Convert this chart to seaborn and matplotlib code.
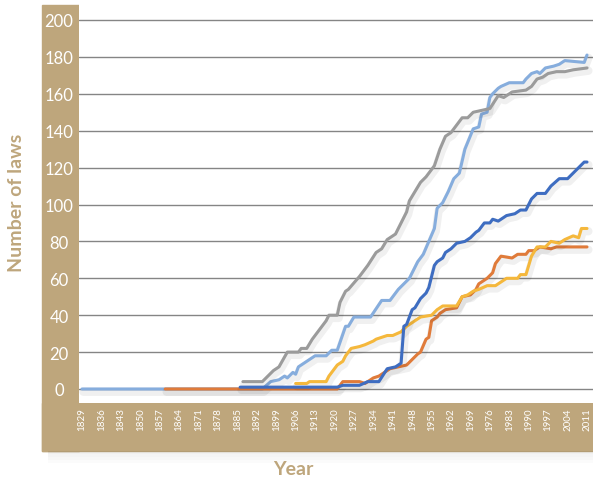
#!/usr/bin/env python3
"""Cumulative number of laws per year, five series, tan framed Excel-style chart."""

import matplotlib
matplotlib.use('Agg')
import matplotlib.pyplot as plt
import matplotlib.patheffects as pe
from matplotlib.patches import Rectangle
import seaborn as sns

# Data: (year, value) vertices for each series
light_blue_years = [1829, 1894, 1897, 1900, 1902, 1903, 1905, 1906, 1907, 1909, 1913, 1917,
                    1919, 1921, 1924, 1925, 1927, 1933, 1937, 1940, 1943, 1947, 1950, 1952,
                    1954, 1956, 1957, 1959, 1961, 1963, 1965, 1967, 1970, 1972, 1973, 1975,
                    1976, 1977, 1979, 1980, 1983, 1988, 1989, 1991, 1993, 1994, 1996, 1999,
                    2001, 2003, 2010, 2011]
light_blue_vals = [0, 0, 4, 5, 7, 6, 9, 8, 12, 14, 18, 18,
                   21, 21, 34, 34, 39, 39, 48, 48, 54, 60, 69, 73,
                   80, 87, 98, 101, 107, 114, 117, 130, 141, 142, 149, 150,
                   158, 160, 163, 164, 166, 166, 168, 171, 172, 171, 174, 175,
                   176, 178, 177, 181]

orange_years = [1859, 1921, 1923, 1929, 1931, 1934, 1936, 1940, 1943, 1946, 1950, 1951,
                1953, 1954, 1955, 1956, 1957, 1958, 1960, 1964, 1966, 1969, 1971, 1972,
                1975, 1977, 1978, 1979, 1980, 1984, 1986, 1989, 1990, 1992, 1994, 1998,
                2000, 2011]
orange_vals = [0, 0, 4, 4, 3, 6, 7, 11, 12, 13, 19, 20,
               27, 28, 37, 38, 39, 41, 43, 44, 50, 51, 54, 57,
               60, 63, 68, 70, 72, 71, 73, 73, 75, 75, 77, 76,
               77, 77]

gray_years = [1887, 1894, 1898, 1900, 1903, 1907, 1908, 1910, 1912, 1914, 1917, 1918,
              1921, 1922, 1924, 1925, 1929, 1932, 1935, 1937, 1939, 1942, 1944, 1946,
              1947, 1949, 1951, 1953, 1956, 1958, 1960, 1962, 1966, 1968, 1970, 1973,
              1976, 1979, 1981, 1984, 1989, 1991, 1993, 1995, 1997, 2000, 2003, 2006,
              2011]
gray_vals = [4, 4, 10, 12, 20, 20, 22, 22, 27, 31, 37, 40,
             40, 47, 53, 54, 61, 67, 74, 76, 81, 84, 90, 96,
             102, 107, 112, 115, 121, 130, 137, 139, 147, 147, 150, 151,
             152, 159, 158, 161, 162, 164, 168, 169, 171, 172, 172, 173,
             174]

yellow_years = [1906, 1910, 1911, 1917, 1918, 1921, 1923, 1924, 1926, 1929, 1931, 1934,
                1935, 1937, 1939, 1941, 1944, 1946, 1949, 1951, 1955, 1957, 1959, 1964,
                1966, 1968, 1970, 1972, 1975, 1978, 1980, 1982, 1986, 1987, 1989, 1990,
                1991, 1993, 1996, 1998, 2001, 2003, 2006, 2008, 2009, 2011]
yellow_vals = [3, 3, 4, 4, 7, 13, 15, 18, 22, 23, 24, 26,
               27, 28, 29, 29, 31, 34, 37, 39, 40, 43, 45, 45,
               50, 51, 53, 54, 56, 56, 58, 60, 60, 62, 62, 67,
               72, 77, 77, 80, 79, 81, 83, 82, 87, 87]

dark_blue_years = [1886, 1921, 1923, 1929, 1932, 1936, 1939, 1942, 1944, 1945, 1946, 1948,
                   1949, 1951, 1953, 1954, 1956, 1957, 1959, 1960, 1962, 1964, 1967, 1969,
                   1971, 1972, 1974, 1976, 1977, 1979, 1982, 1985, 1987, 1989, 1991, 1993,
                   1996, 1998, 2001, 2004, 2006, 2008, 2010, 2011]
dark_blue_vals = [1, 1, 2, 2, 4, 4, 11, 12, 14, 34, 35, 43,
                  44, 49, 52, 55, 67, 69, 71, 74, 76, 79, 80, 82,
                  85, 86, 90, 90, 92, 91, 94, 95, 97, 97, 103, 106,
                  106, 110, 114, 114, 117, 120, 123, 123]

x_ticks = list(range(1829, 2012, 7))
y_ticks = list(range(0, 201, 20))

TAN = '#BEA67C'
series = [
    (light_blue_years, light_blue_vals, '#86ADDD'),
    (orange_years, orange_vals, '#E07B3A'),
    (gray_years, gray_vals, '#9B9B9B'),
    (yellow_years, yellow_vals, '#F5B83C'),
    (dark_blue_years, dark_blue_vals, '#3E6DC1'),
]


def main():
    sns.set_style('white')
    plt.rcParams['font.family'] = ['Lato', 'DejaVu Sans']

    W, H = 593, 485
    fig = plt.figure(figsize=(W / 100, H / 100), dpi=100)

    def fx(px):
        return px / W

    def fy(py):
        return 1 - py / H

    # tan frame: left column and bottom band (behind the axes)
    fig.patches.append(Rectangle((fx(42), fy(452)), fx(79) - fx(42), fy(6) - fy(452),
                                 transform=fig.transFigure, color=TAN, zorder=-2))
    fig.patches.append(Rectangle((fx(42), fy(452)), 1 - fx(42), fy(404) - fy(452),
                                 transform=fig.transFigure, color=TAN, zorder=-2))
    # soft shadow under the band
    for i, a in enumerate([0.06, 0.045, 0.03, 0.015]):
        fig.patches.append(Rectangle((fx(48), fy(452 + 3 * (i + 1))), 1 - fx(48), 3 / H,
                                     transform=fig.transFigure, color='k', alpha=a,
                                     lw=0, zorder=-2))

    ax = fig.add_axes([fx(79), fy(404), 1 - fx(79), fy(0) - fy(404)])
    ax.set_facecolor('white')

    shadow = [pe.SimpleLineShadow(offset=(1, -2), shadow_color='k', alpha=0.06,
                                  linewidth=6), pe.Normal()]
    for years, vals, color in series:
        sns.lineplot(x=years, y=vals, color=color, lw=2.2, ax=ax, zorder=3,
                     path_effects=shadow)

    px_per_year = 505 / 182
    ax.set_xlim(1829 - 3 / px_per_year, 2011 + 6 / px_per_year)
    px_per_val = 369 / 200
    ax.set_ylim((390 - 404) / px_per_val, 390 / px_per_val)

    ax.set_yticks(y_ticks)
    ax.set_yticklabels([str(v) for v in y_ticks], ha='center')
    ax.set_xticks(x_ticks)
    ax.set_xticklabels([str(v) for v in x_ticks], rotation=90)
    ax.tick_params(axis='y', length=0, pad=14.4, labelsize=12, colors='white')
    ax.tick_params(axis='x', length=0, pad=3, labelsize=7, colors='white')
    ax.yaxis.grid(True, color='#858585', lw=1, zorder=1)
    ax.xaxis.grid(False)
    for s in ax.spines.values():
        s.set_visible(False)
    ax.set_xlabel('')
    ax.set_ylabel('')

    fig.text(fx(17), fy(203), 'Number of laws', rotation=90, ha='center', va='center',
             color=TAN, fontsize=14, fontweight='bold')
    fig.text(fx(293), fy(470), 'Year', ha='center', va='center',
             color=TAN, fontsize=14, fontweight='bold')

    fig.savefig('out.png', dpi=100)


if __name__ == '__main__':
    main()
